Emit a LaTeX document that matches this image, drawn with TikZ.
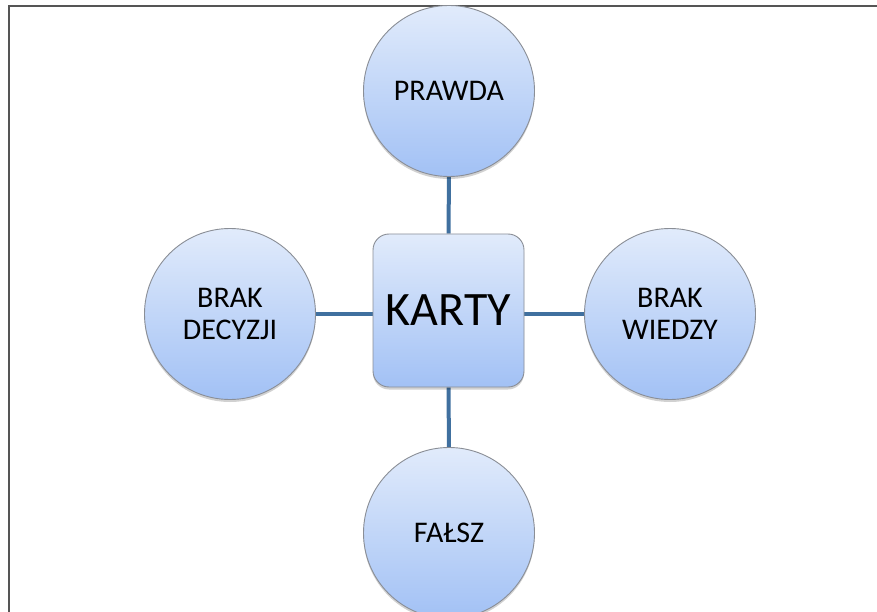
\documentclass[tikz,border=0pt]{standalone}
\usepackage{fontspec}
\setmainfont{Carlito}
\usetikzlibrary{shadows,backgrounds}
\definecolor{filltop}{HTML}{E1EBFB}
\definecolor{fillbot}{HTML}{A2C1F5}
\definecolor{shapeline}{HTML}{8A8E96}
\definecolor{linkcol}{HTML}{40709F}
\definecolor{framecol}{HTML}{555555}
\tikzset{
  bubble/.style={circle, draw=shapeline, line width=0.9pt, top color=filltop, bottom color=fillbot,
    minimum size=171pt, inner sep=0pt, align=center,
    font=\fontsize{30}{32}\selectfont,
    drop shadow={shadow xshift=0pt, shadow yshift=-2.5pt, opacity=0.18, fill=black}},
  centerbox/.style={rectangle, rounded corners=16pt, draw=shapeline, line width=0.9pt,
    top color=filltop, bottom color=fillbot, minimum width=151pt, minimum height=153pt,
    inner sep=0pt, font=\fontsize{48}{52}\selectfont,
    drop shadow={shadow xshift=0pt, shadow yshift=-2.5pt, opacity=0.18, fill=black}},
  link/.style={draw=linkcol, line width=4pt},
  frameline/.style={draw=framecol, line width=2pt}
}
\begin{document}
\begin{tikzpicture}[x=1pt,y=-1pt]
\useasboundingbox (0,0) rectangle (877,612);
\clip (0,0) rectangle (877,612);
\draw[frameline] (9,625) -- (9,6) -- (890,6);
\node[bubble] (prawda) at (449,91) {PRAWDA};
\node[bubble] (falsz) at (449,533) {FAŁSZ};
\node[bubble] (decyzji) at (230,314) {BRAK\\DECYZJI};
\node[bubble] (wiedzy) at (670,314) {BRAK\\WIEDZY};
\node[centerbox] (karty) at (448.5,310.5) {KARTY};
\begin{scope}[on background layer]
\draw[link] (prawda) -- (karty);
\draw[link] (karty) -- (falsz);
\draw[link] (decyzji.east) -- (decyzji.east -| karty.west);
\draw[link] (karty.east |- wiedzy.west) -- (wiedzy.west);
\end{scope}
\end{tikzpicture}
\end{document}
